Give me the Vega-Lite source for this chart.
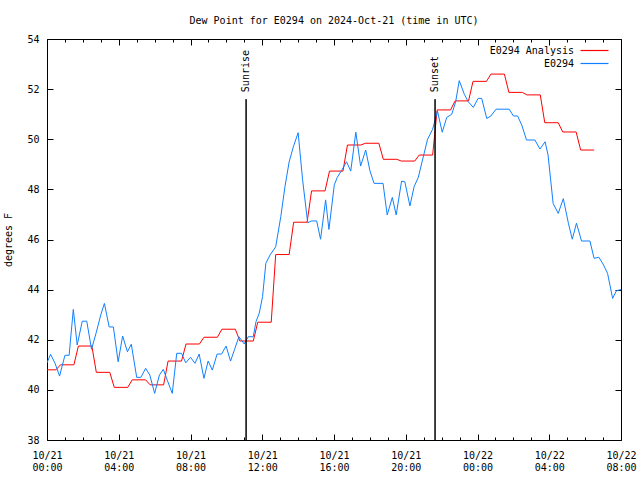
{
  "$schema": "https://vega.github.io/schema/vega-lite/v6.json",
  "width": 574,
  "height": 401,
  "autosize": {"type": "none"},
  "padding": {"left": 47, "top": 39, "right": 19, "bottom": 40},
  "background": "white",
  "title": {
    "text": "Dew Point for E0294 on 2024-Oct-21 (time in UTC)",
    "font": "DejaVu Sans Mono",
    "fontSize": 10,
    "fontWeight": "normal",
    "color": "black",
    "anchor": "middle",
    "frame": "group",
    "offset": 8
  },
  "config": {
    "view": {"stroke": "black", "strokeWidth": 1},
    "axis": {
      "labelFont": "DejaVu Sans Mono",
      "labelFontSize": 10,
      "labelColor": "black",
      "titleFont": "DejaVu Sans Mono",
      "titleFontSize": 10,
      "titleFontWeight": "normal",
      "titleColor": "black",
      "ticks": true,
      "tickColor": "black",
      "tickWidth": 1,
      "tickOpacity": 1,
      "domain": false,
      "grid": false,
      "labelFlush": false,
      "labelOverlap": false,
      "labelBound": false
    },
    "legend": {
      "labelFont": "DejaVu Sans Mono",
      "labelFontSize": 10,
      "labelColor": "black"
    }
  },
  "datasets": {
    "dew": [
      {"time": "2024-10-21T00:00:00Z", "series": "E0294 Analysis", "dewpoint": 40.8},
      {"time": "2024-10-21T00:30:00Z", "series": "E0294 Analysis", "dewpoint": 40.8},
      {"time": "2024-10-21T00:45:00Z", "series": "E0294 Analysis", "dewpoint": 41.0},
      {"time": "2024-10-21T01:30:00Z", "series": "E0294 Analysis", "dewpoint": 41.0},
      {"time": "2024-10-21T01:45:00Z", "series": "E0294 Analysis", "dewpoint": 41.75},
      {"time": "2024-10-21T02:30:00Z", "series": "E0294 Analysis", "dewpoint": 41.75},
      {"time": "2024-10-21T02:45:00Z", "series": "E0294 Analysis", "dewpoint": 40.7},
      {"time": "2024-10-21T03:30:00Z", "series": "E0294 Analysis", "dewpoint": 40.7},
      {"time": "2024-10-21T03:45:00Z", "series": "E0294 Analysis", "dewpoint": 40.1},
      {"time": "2024-10-21T04:30:00Z", "series": "E0294 Analysis", "dewpoint": 40.1},
      {"time": "2024-10-21T04:45:00Z", "series": "E0294 Analysis", "dewpoint": 40.4},
      {"time": "2024-10-21T05:30:00Z", "series": "E0294 Analysis", "dewpoint": 40.4},
      {"time": "2024-10-21T05:45:00Z", "series": "E0294 Analysis", "dewpoint": 40.2},
      {"time": "2024-10-21T06:30:00Z", "series": "E0294 Analysis", "dewpoint": 40.2},
      {"time": "2024-10-21T06:45:00Z", "series": "E0294 Analysis", "dewpoint": 41.15},
      {"time": "2024-10-21T07:30:00Z", "series": "E0294 Analysis", "dewpoint": 41.15},
      {"time": "2024-10-21T07:45:00Z", "series": "E0294 Analysis", "dewpoint": 41.83},
      {"time": "2024-10-21T08:30:00Z", "series": "E0294 Analysis", "dewpoint": 41.83},
      {"time": "2024-10-21T08:45:00Z", "series": "E0294 Analysis", "dewpoint": 42.1},
      {"time": "2024-10-21T09:30:00Z", "series": "E0294 Analysis", "dewpoint": 42.1},
      {"time": "2024-10-21T09:45:00Z", "series": "E0294 Analysis", "dewpoint": 42.42},
      {"time": "2024-10-21T10:30:00Z", "series": "E0294 Analysis", "dewpoint": 42.42},
      {"time": "2024-10-21T10:45:00Z", "series": "E0294 Analysis", "dewpoint": 41.95},
      {"time": "2024-10-21T11:30:00Z", "series": "E0294 Analysis", "dewpoint": 41.95},
      {"time": "2024-10-21T11:45:00Z", "series": "E0294 Analysis", "dewpoint": 42.7},
      {"time": "2024-10-21T12:30:00Z", "series": "E0294 Analysis", "dewpoint": 42.7},
      {"time": "2024-10-21T12:45:00Z", "series": "E0294 Analysis", "dewpoint": 45.4},
      {"time": "2024-10-21T13:30:00Z", "series": "E0294 Analysis", "dewpoint": 45.4},
      {"time": "2024-10-21T13:45:00Z", "series": "E0294 Analysis", "dewpoint": 46.69},
      {"time": "2024-10-21T14:30:00Z", "series": "E0294 Analysis", "dewpoint": 46.69},
      {"time": "2024-10-21T14:45:00Z", "series": "E0294 Analysis", "dewpoint": 47.94},
      {"time": "2024-10-21T15:30:00Z", "series": "E0294 Analysis", "dewpoint": 47.94},
      {"time": "2024-10-21T15:45:00Z", "series": "E0294 Analysis", "dewpoint": 48.73},
      {"time": "2024-10-21T16:30:00Z", "series": "E0294 Analysis", "dewpoint": 48.73},
      {"time": "2024-10-21T16:45:00Z", "series": "E0294 Analysis", "dewpoint": 49.77},
      {"time": "2024-10-21T17:30:00Z", "series": "E0294 Analysis", "dewpoint": 49.77},
      {"time": "2024-10-21T17:45:00Z", "series": "E0294 Analysis", "dewpoint": 49.84},
      {"time": "2024-10-21T18:30:00Z", "series": "E0294 Analysis", "dewpoint": 49.84},
      {"time": "2024-10-21T18:45:00Z", "series": "E0294 Analysis", "dewpoint": 49.2},
      {"time": "2024-10-21T19:30:00Z", "series": "E0294 Analysis", "dewpoint": 49.2},
      {"time": "2024-10-21T19:45:00Z", "series": "E0294 Analysis", "dewpoint": 49.13},
      {"time": "2024-10-21T20:30:00Z", "series": "E0294 Analysis", "dewpoint": 49.13},
      {"time": "2024-10-21T20:45:00Z", "series": "E0294 Analysis", "dewpoint": 49.37},
      {"time": "2024-10-21T21:30:00Z", "series": "E0294 Analysis", "dewpoint": 49.37},
      {"time": "2024-10-21T21:45:00Z", "series": "E0294 Analysis", "dewpoint": 51.17},
      {"time": "2024-10-21T22:30:00Z", "series": "E0294 Analysis", "dewpoint": 51.17},
      {"time": "2024-10-21T22:45:00Z", "series": "E0294 Analysis", "dewpoint": 51.53},
      {"time": "2024-10-21T23:30:00Z", "series": "E0294 Analysis", "dewpoint": 51.53},
      {"time": "2024-10-21T23:45:00Z", "series": "E0294 Analysis", "dewpoint": 52.31},
      {"time": "2024-10-22T00:30:00Z", "series": "E0294 Analysis", "dewpoint": 52.31},
      {"time": "2024-10-22T00:45:00Z", "series": "E0294 Analysis", "dewpoint": 52.6},
      {"time": "2024-10-22T01:30:00Z", "series": "E0294 Analysis", "dewpoint": 52.6},
      {"time": "2024-10-22T01:45:00Z", "series": "E0294 Analysis", "dewpoint": 51.87},
      {"time": "2024-10-22T02:30:00Z", "series": "E0294 Analysis", "dewpoint": 51.87},
      {"time": "2024-10-22T02:45:00Z", "series": "E0294 Analysis", "dewpoint": 51.77},
      {"time": "2024-10-22T03:30:00Z", "series": "E0294 Analysis", "dewpoint": 51.77},
      {"time": "2024-10-22T03:45:00Z", "series": "E0294 Analysis", "dewpoint": 50.66},
      {"time": "2024-10-22T04:30:00Z", "series": "E0294 Analysis", "dewpoint": 50.66},
      {"time": "2024-10-22T04:45:00Z", "series": "E0294 Analysis", "dewpoint": 50.29},
      {"time": "2024-10-22T05:30:00Z", "series": "E0294 Analysis", "dewpoint": 50.29},
      {"time": "2024-10-22T05:45:00Z", "series": "E0294 Analysis", "dewpoint": 49.57},
      {"time": "2024-10-22T06:30:00Z", "series": "E0294 Analysis", "dewpoint": 49.57},
      {"time": "2024-10-21T00:00:00Z", "series": "E0294", "dewpoint": 41.08},
      {"time": "2024-10-21T00:12:00Z", "series": "E0294", "dewpoint": 41.42},
      {"time": "2024-10-21T00:27:00Z", "series": "E0294", "dewpoint": 41.06},
      {"time": "2024-10-21T00:42:00Z", "series": "E0294", "dewpoint": 40.55},
      {"time": "2024-10-21T01:00:00Z", "series": "E0294", "dewpoint": 41.38},
      {"time": "2024-10-21T01:14:00Z", "series": "E0294", "dewpoint": 41.38},
      {"time": "2024-10-21T01:28:00Z", "series": "E0294", "dewpoint": 43.21},
      {"time": "2024-10-21T01:41:00Z", "series": "E0294", "dewpoint": 41.79},
      {"time": "2024-10-21T01:58:00Z", "series": "E0294", "dewpoint": 42.74},
      {"time": "2024-10-21T02:13:00Z", "series": "E0294", "dewpoint": 42.74},
      {"time": "2024-10-21T02:29:00Z", "series": "E0294", "dewpoint": 41.62},
      {"time": "2024-10-21T02:45:00Z", "series": "E0294", "dewpoint": 42.3},
      {"time": "2024-10-21T03:00:00Z", "series": "E0294", "dewpoint": 43.0},
      {"time": "2024-10-21T03:12:00Z", "series": "E0294", "dewpoint": 43.45},
      {"time": "2024-10-21T03:28:00Z", "series": "E0294", "dewpoint": 42.51},
      {"time": "2024-10-21T03:42:00Z", "series": "E0294", "dewpoint": 42.51},
      {"time": "2024-10-21T03:58:00Z", "series": "E0294", "dewpoint": 41.12},
      {"time": "2024-10-21T04:13:00Z", "series": "E0294", "dewpoint": 42.15},
      {"time": "2024-10-21T04:29:00Z", "series": "E0294", "dewpoint": 41.52},
      {"time": "2024-10-21T04:42:00Z", "series": "E0294", "dewpoint": 41.82},
      {"time": "2024-10-21T05:00:00Z", "series": "E0294", "dewpoint": 40.5},
      {"time": "2024-10-21T05:14:00Z", "series": "E0294", "dewpoint": 40.5},
      {"time": "2024-10-21T05:30:00Z", "series": "E0294", "dewpoint": 40.86},
      {"time": "2024-10-21T05:44:00Z", "series": "E0294", "dewpoint": 40.59},
      {"time": "2024-10-21T06:00:00Z", "series": "E0294", "dewpoint": 39.86},
      {"time": "2024-10-21T06:16:00Z", "series": "E0294", "dewpoint": 40.59},
      {"time": "2024-10-21T06:29:00Z", "series": "E0294", "dewpoint": 40.82},
      {"time": "2024-10-21T06:44:00Z", "series": "E0294", "dewpoint": 40.33},
      {"time": "2024-10-21T06:59:00Z", "series": "E0294", "dewpoint": 39.86},
      {"time": "2024-10-21T07:14:00Z", "series": "E0294", "dewpoint": 41.46},
      {"time": "2024-10-21T07:30:00Z", "series": "E0294", "dewpoint": 41.46},
      {"time": "2024-10-21T07:44:00Z", "series": "E0294", "dewpoint": 41.08},
      {"time": "2024-10-21T08:00:00Z", "series": "E0294", "dewpoint": 41.3},
      {"time": "2024-10-21T08:15:00Z", "series": "E0294", "dewpoint": 41.06},
      {"time": "2024-10-21T08:29:00Z", "series": "E0294", "dewpoint": 41.43},
      {"time": "2024-10-21T08:45:00Z", "series": "E0294", "dewpoint": 40.46},
      {"time": "2024-10-21T08:59:00Z", "series": "E0294", "dewpoint": 41.15},
      {"time": "2024-10-21T09:13:00Z", "series": "E0294", "dewpoint": 40.79},
      {"time": "2024-10-21T09:29:00Z", "series": "E0294", "dewpoint": 41.43},
      {"time": "2024-10-21T09:44:00Z", "series": "E0294", "dewpoint": 41.43},
      {"time": "2024-10-21T09:59:00Z", "series": "E0294", "dewpoint": 41.75},
      {"time": "2024-10-21T10:14:00Z", "series": "E0294", "dewpoint": 41.15},
      {"time": "2024-10-21T10:27:00Z", "series": "E0294", "dewpoint": 41.6},
      {"time": "2024-10-21T10:42:00Z", "series": "E0294", "dewpoint": 42.12},
      {"time": "2024-10-21T11:00:00Z", "series": "E0294", "dewpoint": 41.83},
      {"time": "2024-10-21T11:13:00Z", "series": "E0294", "dewpoint": 42.12},
      {"time": "2024-10-21T11:30:00Z", "series": "E0294", "dewpoint": 42.12},
      {"time": "2024-10-21T11:39:00Z", "series": "E0294", "dewpoint": 42.72},
      {"time": "2024-10-21T11:50:00Z", "series": "E0294", "dewpoint": 43.06},
      {"time": "2024-10-21T12:01:00Z", "series": "E0294", "dewpoint": 43.72},
      {"time": "2024-10-21T12:12:00Z", "series": "E0294", "dewpoint": 45.05},
      {"time": "2024-10-21T12:26:00Z", "series": "E0294", "dewpoint": 45.38},
      {"time": "2024-10-21T12:45:00Z", "series": "E0294", "dewpoint": 45.71},
      {"time": "2024-10-21T13:02:00Z", "series": "E0294", "dewpoint": 46.91},
      {"time": "2024-10-21T13:16:00Z", "series": "E0294", "dewpoint": 48.11},
      {"time": "2024-10-21T13:30:00Z", "series": "E0294", "dewpoint": 49.1},
      {"time": "2024-10-21T13:44:00Z", "series": "E0294", "dewpoint": 49.7},
      {"time": "2024-10-21T14:00:00Z", "series": "E0294", "dewpoint": 50.26},
      {"time": "2024-10-21T14:15:00Z", "series": "E0294", "dewpoint": 48.38},
      {"time": "2024-10-21T14:32:00Z", "series": "E0294", "dewpoint": 46.67},
      {"time": "2024-10-21T14:45:00Z", "series": "E0294", "dewpoint": 46.74},
      {"time": "2024-10-21T15:02:00Z", "series": "E0294", "dewpoint": 46.74},
      {"time": "2024-10-21T15:15:00Z", "series": "E0294", "dewpoint": 46.01},
      {"time": "2024-10-21T15:32:00Z", "series": "E0294", "dewpoint": 47.58},
      {"time": "2024-10-21T15:43:00Z", "series": "E0294", "dewpoint": 46.4},
      {"time": "2024-10-21T16:01:00Z", "series": "E0294", "dewpoint": 48.18},
      {"time": "2024-10-21T16:11:00Z", "series": "E0294", "dewpoint": 48.48},
      {"time": "2024-10-21T16:25:00Z", "series": "E0294", "dewpoint": 48.75},
      {"time": "2024-10-21T16:42:00Z", "series": "E0294", "dewpoint": 49.1},
      {"time": "2024-10-21T16:56:00Z", "series": "E0294", "dewpoint": 48.73},
      {"time": "2024-10-21T17:13:00Z", "series": "E0294", "dewpoint": 50.28},
      {"time": "2024-10-21T17:29:00Z", "series": "E0294", "dewpoint": 48.93},
      {"time": "2024-10-21T17:46:00Z", "series": "E0294", "dewpoint": 49.57},
      {"time": "2024-10-21T18:00:00Z", "series": "E0294", "dewpoint": 48.75},
      {"time": "2024-10-21T18:14:00Z", "series": "E0294", "dewpoint": 48.24},
      {"time": "2024-10-21T18:44:00Z", "series": "E0294", "dewpoint": 48.24},
      {"time": "2024-10-21T18:58:00Z", "series": "E0294", "dewpoint": 46.98},
      {"time": "2024-10-21T19:15:00Z", "series": "E0294", "dewpoint": 47.68},
      {"time": "2024-10-21T19:28:00Z", "series": "E0294", "dewpoint": 46.98},
      {"time": "2024-10-21T19:46:00Z", "series": "E0294", "dewpoint": 48.33},
      {"time": "2024-10-21T19:57:00Z", "series": "E0294", "dewpoint": 48.3},
      {"time": "2024-10-21T20:14:00Z", "series": "E0294", "dewpoint": 47.34},
      {"time": "2024-10-21T20:28:00Z", "series": "E0294", "dewpoint": 48.11},
      {"time": "2024-10-21T20:42:00Z", "series": "E0294", "dewpoint": 48.48},
      {"time": "2024-10-21T20:56:00Z", "series": "E0294", "dewpoint": 49.17},
      {"time": "2024-10-21T21:13:00Z", "series": "E0294", "dewpoint": 50.0},
      {"time": "2024-10-21T21:30:00Z", "series": "E0294", "dewpoint": 50.4},
      {"time": "2024-10-21T21:46:00Z", "series": "E0294", "dewpoint": 51.13},
      {"time": "2024-10-21T22:02:00Z", "series": "E0294", "dewpoint": 50.28},
      {"time": "2024-10-21T22:17:00Z", "series": "E0294", "dewpoint": 50.87},
      {"time": "2024-10-21T22:34:00Z", "series": "E0294", "dewpoint": 51.0},
      {"time": "2024-10-21T22:47:00Z", "series": "E0294", "dewpoint": 51.5},
      {"time": "2024-10-21T22:59:00Z", "series": "E0294", "dewpoint": 52.34},
      {"time": "2024-10-21T23:16:00Z", "series": "E0294", "dewpoint": 51.79},
      {"time": "2024-10-21T23:29:00Z", "series": "E0294", "dewpoint": 51.5},
      {"time": "2024-10-21T23:46:00Z", "series": "E0294", "dewpoint": 51.27},
      {"time": "2024-10-22T00:02:00Z", "series": "E0294", "dewpoint": 51.63},
      {"time": "2024-10-22T00:14:00Z", "series": "E0294", "dewpoint": 51.63},
      {"time": "2024-10-22T00:31:00Z", "series": "E0294", "dewpoint": 50.83},
      {"time": "2024-10-22T00:45:00Z", "series": "E0294", "dewpoint": 50.93},
      {"time": "2024-10-22T01:02:00Z", "series": "E0294", "dewpoint": 51.2},
      {"time": "2024-10-22T01:46:00Z", "series": "E0294", "dewpoint": 51.2},
      {"time": "2024-10-22T02:00:00Z", "series": "E0294", "dewpoint": 50.93},
      {"time": "2024-10-22T02:14:00Z", "series": "E0294", "dewpoint": 50.93},
      {"time": "2024-10-22T02:28:00Z", "series": "E0294", "dewpoint": 50.57},
      {"time": "2024-10-22T02:44:00Z", "series": "E0294", "dewpoint": 49.97},
      {"time": "2024-10-22T03:12:00Z", "series": "E0294", "dewpoint": 49.97},
      {"time": "2024-10-22T03:29:00Z", "series": "E0294", "dewpoint": 49.61},
      {"time": "2024-10-22T03:46:00Z", "series": "E0294", "dewpoint": 49.9},
      {"time": "2024-10-22T03:56:00Z", "series": "E0294", "dewpoint": 49.37},
      {"time": "2024-10-22T04:13:00Z", "series": "E0294", "dewpoint": 47.44},
      {"time": "2024-10-22T04:30:00Z", "series": "E0294", "dewpoint": 47.04},
      {"time": "2024-10-22T04:47:00Z", "series": "E0294", "dewpoint": 47.63},
      {"time": "2024-10-22T05:04:00Z", "series": "E0294", "dewpoint": 46.65},
      {"time": "2024-10-22T05:17:00Z", "series": "E0294", "dewpoint": 46.01},
      {"time": "2024-10-22T05:31:00Z", "series": "E0294", "dewpoint": 46.65},
      {"time": "2024-10-22T05:48:00Z", "series": "E0294", "dewpoint": 45.94},
      {"time": "2024-10-22T06:16:00Z", "series": "E0294", "dewpoint": 45.94},
      {"time": "2024-10-22T06:30:00Z", "series": "E0294", "dewpoint": 45.25},
      {"time": "2024-10-22T06:46:00Z", "series": "E0294", "dewpoint": 45.29},
      {"time": "2024-10-22T07:00:00Z", "series": "E0294", "dewpoint": 45.02},
      {"time": "2024-10-22T07:15:00Z", "series": "E0294", "dewpoint": 44.65},
      {"time": "2024-10-22T07:32:00Z", "series": "E0294", "dewpoint": 43.65},
      {"time": "2024-10-22T07:45:00Z", "series": "E0294", "dewpoint": 43.96},
      {"time": "2024-10-22T08:00:00Z", "series": "E0294", "dewpoint": 44.0}
    ],
    "sun": [
      {"time": "2024-10-21T11:06:00Z", "label": "Sunrise"},
      {"time": "2024-10-21T21:38:00Z", "label": "Sunset"}
    ]
  },
  "resolve": {"scale": {"x": "independent", "y": "independent"}},
  "layer": [
    {
      "data": {"name": "dew"},
      "mark": {"type": "line", "strokeWidth": 1, "clip": true},
      "encoding": {
        "x": {
          "field": "time",
          "type": "temporal",
          "scale": {"type": "utc", "domain": ["2024-10-21T00:00:00Z", "2024-10-22T08:00:00Z"], "nice": false},
          "axis": {
            "orient": "bottom",
            "title": null,
            "tickSize": -6,
            "values": [
              "2024-10-21T00:00:00Z", "2024-10-21T04:00:00Z", "2024-10-21T08:00:00Z",
              "2024-10-21T12:00:00Z", "2024-10-21T16:00:00Z", "2024-10-21T20:00:00Z",
              "2024-10-22T00:00:00Z", "2024-10-22T04:00:00Z", "2024-10-22T08:00:00Z"
            ],
            "labelPadding": 16,
            "labelAlign": "center",
            "labelBaseline": "top",
            "labelLineHeight": 12,
            "labelExpr": "[utcFormat(datum.value, '%m/%d'), utcFormat(datum.value, '%H:%M')]"
          }
        },
        "y": {
          "field": "dewpoint",
          "type": "quantitative",
          "scale": {"domain": [38, 54], "nice": false, "zero": false},
          "axis": {
            "orient": "left",
            "title": "degrees F",
            "tickSize": -6,
            "values": [38, 40, 42, 44, 46, 48, 50, 52, 54],
            "labelPadding": 14,
            "titlePadding": 13
          }
        },
        "color": {
          "field": "series",
          "type": "nominal",
          "sort": ["E0294 Analysis", "E0294"],
          "scale": {"domain": ["E0294 Analysis", "E0294"], "range": ["#ff0000", "#1080ff"]},
          "legend": {
            "title": null,
            "orient": "none",
            "legendX": 542,
            "legendY": 6,
            "padding": 0,
            "symbolType": "M-3,0H3",
            "symbolSize": 87,
            "symbolStrokeWidth": 1.2,
            "labelAlign": "right",
            "labelOffset": -26,
            "rowPadding": 2
          }
        }
      }
    },
    {
      "data": {"name": "sun"},
      "mark": {"type": "rule", "color": "black", "strokeWidth": 1},
      "encoding": {
        "x": {
          "field": "time",
          "type": "temporal",
          "scale": {"type": "utc", "domain": ["2024-10-21T00:00:00Z", "2024-10-22T08:00:00Z"], "nice": false},
          "axis": {
            "orient": "bottom",
            "title": null,
            "labels": false,
            "tickSize": -3,
            "values": [
              "2024-10-21T01:00:00Z", "2024-10-21T02:00:00Z", "2024-10-21T03:00:00Z",
              "2024-10-21T05:00:00Z", "2024-10-21T06:00:00Z", "2024-10-21T07:00:00Z",
              "2024-10-21T09:00:00Z", "2024-10-21T10:00:00Z", "2024-10-21T11:00:00Z",
              "2024-10-21T13:00:00Z", "2024-10-21T14:00:00Z", "2024-10-21T15:00:00Z",
              "2024-10-21T17:00:00Z", "2024-10-21T18:00:00Z", "2024-10-21T19:00:00Z",
              "2024-10-21T21:00:00Z", "2024-10-21T22:00:00Z", "2024-10-21T23:00:00Z",
              "2024-10-22T01:00:00Z", "2024-10-22T02:00:00Z", "2024-10-22T03:00:00Z",
              "2024-10-22T05:00:00Z", "2024-10-22T06:00:00Z", "2024-10-22T07:00:00Z"
            ]
          }
        },
        "y": {
          "datum": 51.6,
          "type": "quantitative",
          "scale": {"domain": [38, 54], "nice": false, "zero": false},
          "axis": {
            "orient": "right",
            "title": null,
            "labels": false,
            "tickSize": -6,
            "values": [38, 40, 42, 44, 46, 48, 50, 52, 54]
          }
        },
        "y2": {"datum": 38}
      }
    },
    {
      "data": {"name": "sun"},
      "mark": {"type": "text", "angle": 270, "align": "left", "baseline": "middle", "dx": 7, "font": "DejaVu Sans Mono", "fontSize": 10, "color": "black"},
      "encoding": {
        "x": {
          "field": "time",
          "type": "temporal",
          "scale": {"type": "utc", "domain": ["2024-10-21T00:00:00Z", "2024-10-22T08:00:00Z"], "nice": false},
          "axis": {
            "orient": "top",
            "title": null,
            "labels": false,
            "tickSize": -6,
            "values": [
              "2024-10-21T00:00:00Z", "2024-10-21T04:00:00Z", "2024-10-21T08:00:00Z",
              "2024-10-21T12:00:00Z", "2024-10-21T16:00:00Z", "2024-10-21T20:00:00Z",
              "2024-10-22T00:00:00Z", "2024-10-22T04:00:00Z", "2024-10-22T08:00:00Z"
            ]
          }
        },
        "y": {
          "datum": 51.6,
          "type": "quantitative",
          "scale": {"domain": [38, 54], "nice": false, "zero": false},
          "axis": null
        },
        "text": {"field": "label"}
      }
    },
    {
      "data": {"name": "sun"},
      "mark": {"type": "rule", "color": "black", "strokeWidth": 1},
      "encoding": {
        "x": {
          "field": "time",
          "type": "temporal",
          "scale": {"type": "utc", "domain": ["2024-10-21T00:00:00Z", "2024-10-22T08:00:00Z"], "nice": false},
          "axis": {
            "orient": "top",
            "title": null,
            "labels": false,
            "tickSize": -3,
            "values": [
              "2024-10-21T01:00:00Z", "2024-10-21T02:00:00Z", "2024-10-21T03:00:00Z",
              "2024-10-21T05:00:00Z", "2024-10-21T06:00:00Z", "2024-10-21T07:00:00Z",
              "2024-10-21T09:00:00Z", "2024-10-21T10:00:00Z", "2024-10-21T11:00:00Z",
              "2024-10-21T13:00:00Z", "2024-10-21T14:00:00Z", "2024-10-21T15:00:00Z",
              "2024-10-21T17:00:00Z", "2024-10-21T18:00:00Z", "2024-10-21T19:00:00Z",
              "2024-10-21T21:00:00Z", "2024-10-21T22:00:00Z", "2024-10-21T23:00:00Z",
              "2024-10-22T01:00:00Z", "2024-10-22T02:00:00Z", "2024-10-22T03:00:00Z",
              "2024-10-22T05:00:00Z", "2024-10-22T06:00:00Z", "2024-10-22T07:00:00Z"
            ]
          }
        },
        "y": {
          "datum": 51.6,
          "type": "quantitative",
          "scale": {"domain": [38, 54], "nice": false, "zero": false},
          "axis": null
        },
        "y2": {"datum": 38}
      }
    }
  ]
}
